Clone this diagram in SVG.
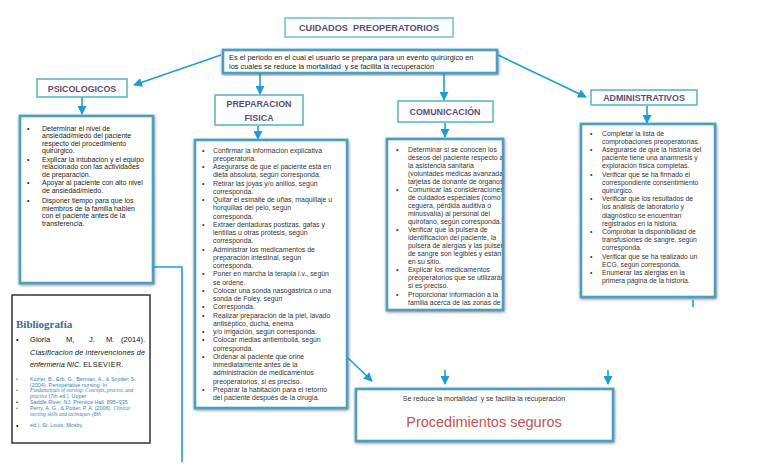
<svg xmlns="http://www.w3.org/2000/svg" width="768" height="466" viewBox="0 0 768 466">
<defs>
<style>
.t{font-family:"Liberation Sans",Arial,sans-serif;font-size:6.9px;fill:#333}
.b{font-family:"Liberation Sans",Arial,sans-serif;font-size:7px;fill:#222}
.h{font-family:"Liberation Sans",Arial,sans-serif;font-weight:bold;font-size:8.9px;fill:#5c4d7d;text-anchor:middle}
.hb{fill:#fff;stroke:#52b3c9;stroke-width:1.5}
.cb{fill:#fff;stroke:#4a9fc0;stroke-width:2.6;filter:url(#sh)}
.c{stroke:#1c9dd9;stroke-width:1.6;fill:none}
.bl{font-family:"Liberation Sans",Arial,sans-serif;font-size:5.4px;fill:#3a7fc0}
.bi{font-family:"Liberation Serif","Times New Roman",serif;font-style:italic;font-size:5.2px;fill:#3a7fc0}
.g{font-family:"Liberation Sans",Arial,sans-serif;font-size:7.6px;fill:#111}
.pre{white-space:pre}
</style>
<filter id="sh" x="-10%" y="-10%" width="120%" height="120%">
<feDropShadow dx="0.5" dy="1" stdDeviation="1.5" flood-color="#556" flood-opacity="0.7"/>
</filter>
<marker id="ar" markerUnits="userSpaceOnUse" markerWidth="9" markerHeight="9" refX="8" refY="4.5" orient="auto">
<path d="M0,0 L9,4.5 L0,9 z" fill="#1c9dd9"/>
</marker>
<clipPath id="clipCom"><rect x="387" y="138" width="115" height="172"/></clipPath>
</defs>
<rect width="768" height="466" fill="#fff"/>

<g id="connectors">
<line class="c" x1="221" y1="55" x2="134" y2="85" marker-end="url(#ar)"/>
<line class="c" x1="498" y1="55" x2="586" y2="97" marker-end="url(#ar)"/>
<line class="c" x1="260" y1="74" x2="260" y2="94" marker-end="url(#ar)"/>
<line class="c" x1="444" y1="74" x2="444" y2="100" marker-end="url(#ar)"/>
<line class="c" x1="82" y1="97" x2="82" y2="114" marker-end="url(#ar)"/>
<line class="c" x1="258" y1="126" x2="258" y2="139" marker-end="url(#ar)"/>
<line class="c" x1="445" y1="123" x2="445" y2="137" marker-end="url(#ar)"/>
<line class="c" x1="647" y1="106" x2="647" y2="123" marker-end="url(#ar)"/>
<line class="c" x1="347" y1="357" x2="372" y2="381" marker-end="url(#ar)"/>
<line class="c" x1="445" y1="370" x2="445" y2="384" marker-end="url(#ar)"/>
<line class="c" x1="608" y1="370" x2="608" y2="384" marker-end="url(#ar)"/>
<line class="c" x1="693" y1="300" x2="693" y2="307"/>
<polyline class="c" points="153,267 182,267 182,462"/>
</g>

<g id="title">
<rect x="285" y="18" width="168" height="19" fill="#fff" stroke="#6cbfce" stroke-width="1.5"/>
<text class="h pre" x="369" y="31" style="font-size:9.2px">CUIDADOS  PREOPERATORIOS</text>
</g>

<g id="definicion">
<rect class="cb" x="223" y="50" width="274" height="23"/>
<text class="b" x="229" y="60" style="font-size:7.4px">Es el periodo en el cual el usuario se prepara para un evento quirúrgico en</text>
<text class="b pre" x="229" y="69" style="font-size:7.4px">los cuales se reduce la mortalidad  y se facilita la recuperación</text>
</g>

<g id="psicologicos">
<rect class="hb" x="37" y="79" width="90" height="18"/>
<text class="h" x="82" y="91.5">PSICOLOGICOS</text>
</g>

<g id="psicologicos-lista">
<rect class="cb" x="20" y="116" width="133" height="167"/>
<g class="b">
<text x="27" y="130.5">•</text><text x="42" y="130.5">Determinar el nivel de</text>
<text x="42" y="138">ansiedad/miedo del paciente</text>
<text x="42" y="145.5">respecto del procedimiento</text>
<text x="42" y="153">quirúrgico.</text>
<text x="27" y="161.5">•</text><text x="42" y="161.5">Explicar la intubación y el equipo</text>
<text x="42" y="169">relacionado con las actividades</text>
<text x="42" y="176.5">de preparación.</text>
<text x="27" y="185">•</text><text x="42" y="185">Apoyar al paciente con alto nivel</text>
<text x="42" y="193">de ansiedad/miedo.</text>
<text x="27" y="203">•</text><text x="42" y="203">Disponer tiempo para que los</text>
<text x="42" y="210.5">miembros de la familia hablen</text>
<text x="42" y="218">con el paciente antes de la</text>
<text x="42" y="225.5">transferencia.</text>
</g>
</g>

<g id="preparacion">
<rect class="hb" x="215" y="95" width="88" height="30"/>
<text class="h" x="259" y="107">PREPARACION</text>
<text class="h" x="259" y="120.5">FISICA</text>
</g>

<g id="preparacion-lista">
<rect class="cb" x="195" y="140" width="152" height="268"/>
<g class="t">
<text x="202" y="152.5">•</text><text x="213" y="152.5">Confirmar la información explicativa</text>
<text x="213" y="160.7">preoperatoria.</text>
<text x="202" y="169">•</text><text x="213" y="169">Asegurarse de que el paciente está en</text>
<text x="213" y="177.2">dieta absoluta, según corresponda.</text>
<text x="202" y="185.5">•</text><text x="213" y="185.5">Retirar las joyas y/o anillos, según</text>
<text x="213" y="193.7">corresponda.</text>
<text x="202" y="202">•</text><text x="213" y="202">Quitar el esmalte de uñas, maquillaje u</text>
<text x="213" y="210.2">horquillas del pelo, según</text>
<text x="213" y="218.5">corresponda.</text>
<text x="202" y="226.7">•</text><text x="213" y="226.7">Extraer dentaduras postizas, gafas y</text>
<text x="213" y="235">lentillas u otras prótesis, según</text>
<text x="213" y="243.2">corresponda.</text>
<text x="202" y="251.5">•</text><text x="213" y="251.5">Administrar los medicamentos de</text>
<text x="213" y="259.7">preparación intestinal, según</text>
<text x="213" y="268">corresponda.</text>
<text x="202" y="276.2">•</text><text x="213" y="276.2">Poner en marcha la terapia i.v., según</text>
<text x="213" y="284.5">se ordene.</text>
<text x="202" y="292.7">•</text><text x="213" y="292.7">Colocar una sonda nasogástrica o una</text>
<text x="213" y="301">sonda de Foley, según</text>
<text x="202" y="309.2">•</text><text x="213" y="309.2">Corresponda.</text>
<text x="202" y="317.5">•</text><text x="213" y="317.5">Realizar preparación de la piel, lavado</text>
<text x="213" y="325.7">antiséptico, ducha, enema</text>
<text x="202" y="334">•</text><text x="213" y="334">y/o irrigación, según corresponda.</text>
<text x="202" y="342.2">•</text><text x="213" y="342.2">Colocar medias antiembolia, según</text>
<text x="213" y="350.5">corresponda.</text>
<text x="202" y="358.7">•</text><text x="213" y="358.7">Ordenar al paciente que orine</text>
<text x="213" y="367">inmediatamente antes de la</text>
<text x="213" y="375.2">administración de medicamentos</text>
<text x="213" y="383.5">preoperatorios, si es preciso.</text>
<text x="202" y="391.7">•</text><text x="213" y="391.7">Preparar la habitación para el retorno</text>
<text x="213" y="400">del paciente después de la cirugía.</text>
</g>
</g>

<g id="comunicacion">
<rect class="hb" x="398" y="101" width="95" height="21"/>
<text class="h" x="445" y="115">COMUNICACIÓN</text>
</g>

<g id="comunicacion-lista">
<rect class="cb" x="387" y="139" width="116" height="171"/>
<g class="t" clip-path="url(#clipCom)">
<text x="396" y="151.5">•</text><text x="408" y="151.5">Determinar si se conocen los</text>
<text x="408" y="159.5">deseos del paciente respecto a</text>
<text x="408" y="167.5">la asistencia sanitaria</text>
<text x="408" y="175.5">(voluntades médicas avanzadas,</text>
<text x="408" y="183.5">tarjetas de donante de órganos).</text>
<text x="396" y="191.5">•</text><text x="408" y="191.5">Comunicar las consideraciones</text>
<text x="408" y="199.5">de cuidados especiales (como</text>
<text x="408" y="207.5">ceguera, pérdida auditiva o</text>
<text x="408" y="215.5">minusvalía) al personal del</text>
<text x="408" y="223.5">quirófano, según corresponda.</text>
<text x="396" y="231.5">•</text><text x="408" y="231.5">Verificar que la pulsera de</text>
<text x="408" y="239.5">identificación del paciente, la</text>
<text x="408" y="247.5">pulsera de alergias y las pulseras</text>
<text x="408" y="255.5">de sangre son legibles y están</text>
<text x="408" y="263.5">en su sitio.</text>
<text x="396" y="272">•</text><text x="408" y="272">Explicar los medicamentos</text>
<text x="408" y="280">preoperatorios que se utilizarán,</text>
<text x="408" y="288">si es preciso.</text>
<text x="396" y="296.5">•</text><text x="408" y="296.5">Proporcionar información a la</text>
<text x="408" y="304.5">familia acerca de las zonas de</text>
</g>
</g>

<g id="administrativos">
<rect class="hb" x="591" y="90" width="106" height="15"/>
<text class="h" x="644" y="101.2">ADMINISTRATIVOS</text>
</g>

<g id="administrativos-lista">
<rect class="cb" x="581" y="124" width="134" height="173"/>
<g class="t" style="font-size:6.8px">
<text x="590" y="135.5">•</text><text x="602" y="135.5">Completar la lista de</text>
<text x="602" y="143.7">comprobaciones preoperatorias.</text>
<text x="590" y="151.9">•</text><text x="602" y="151.9">Asegurarse de que la historia del</text>
<text x="602" y="160.1">paciente tiene una anamnesis y</text>
<text x="602" y="168.3">exploración física completas.</text>
<text x="590" y="176.5">•</text><text x="602" y="176.5">Verificar que se ha firmado el</text>
<text x="602" y="184.7">correspondiente consentimiento</text>
<text x="602" y="192.9">quirúrgico.</text>
<text x="590" y="201.1">•</text><text x="602" y="201.1">Verificar que los resultados de</text>
<text x="602" y="209.3">los análisis de laboratorio y</text>
<text x="602" y="217.5">diagnóstico se encuentran</text>
<text x="602" y="225.7">registrados en la historia.</text>
<text x="590" y="233.9">•</text><text x="602" y="233.9">Comprobar la disponibilidad de</text>
<text x="602" y="242.1">transfusiones de sangre, según</text>
<text x="602" y="250.3">corresponda.</text>
<text x="590" y="258.5">•</text><text x="602" y="258.5">Verificar que se ha realizado un</text>
<text x="602" y="266.7">ECG, según corresponda.</text>
<text x="590" y="274.9">•</text><text x="602" y="274.9">Enumerar las alergias en la</text>
<text x="602" y="283.1">primera página de la historia.</text>
</g>
</g>

<g id="resultado">
<rect class="cb" x="356" y="389" width="257" height="52"/>
<text class="t pre" x="484" y="401" text-anchor="middle" style="font-size:7px">Se reduce la mortalidad  y se facilita la recuperación</text>
<text x="484" y="427" text-anchor="middle" style="font-family:'Liberation Sans',Arial,sans-serif;font-size:14.5px;fill:#c9504f">Procedimientos seguros</text>
</g>

<g id="bibliografia">
<rect x="12" y="295" width="138" height="148" fill="#fff" stroke="#333" stroke-width="1.5"/>
<text x="16" y="328" style="font-family:'Liberation Serif','Times New Roman',serif;font-weight:bold;font-size:11px;fill:#3b6a9c">Bibliografía</text>
<text class="g" x="16" y="342">•</text>
<text class="g" x="30" y="342">Gloria</text>
<text class="g" x="66" y="342">M,</text>
<text class="g" x="89" y="342">J.</text>
<text class="g" x="106" y="342">M.</text>
<text class="g" x="121" y="342">(2014).</text>
<text class="g" x="30" y="354.5" textLength="115" lengthAdjust="spacing" style="font-style:italic;font-size:7.2px">Clasificacion de intervenciones de</text>
<text class="g" x="30" y="366.5" style="font-size:7.2px"><tspan font-style="italic">enfermería NIC.</tspan> <tspan letter-spacing="0.4">ELSEVIER.</tspan></text>
<text class="bl" x="16" y="381">•</text><text class="bl" x="30" y="381">Kozier, B., Erb, G., Berman, A., &amp; Snyder, S.</text>
<text class="bl" x="30" y="386.5">(2004). Perioperative nursing. In</text>
<text class="bl" x="16" y="392">•</text><text class="bi" x="30" y="392">Fundamentals of nursing: Concepts, process, and</text>
<text class="bl" x="30" y="398"><tspan class="bi">practice</tspan> (7th ed.). Upper</text>
<text x="16" y="404" style="font-family:'Liberation Sans',Arial,sans-serif;font-size:5.4px;fill:#111">•</text><text class="bl" x="30" y="404">Saddle River, NJ: Prentice Hall. 895–935.</text>
<text class="bl" x="16" y="409.5">•</text><text class="bl" x="30" y="409.5">Perry, A. G., &amp; Potter, P. A. (2006). <tspan class="bi">Clinical</tspan></text>
<text class="bi" x="30" y="415.5">nursing skills and techniques <tspan class="bl">(6th</tspan></text>
<text x="16" y="428" style="font-family:'Liberation Sans',Arial,sans-serif;font-size:7px;fill:#111">•</text><text class="bl" x="30" y="427">ed.). St. Louis: Mosby.</text>
</g>
</svg>
